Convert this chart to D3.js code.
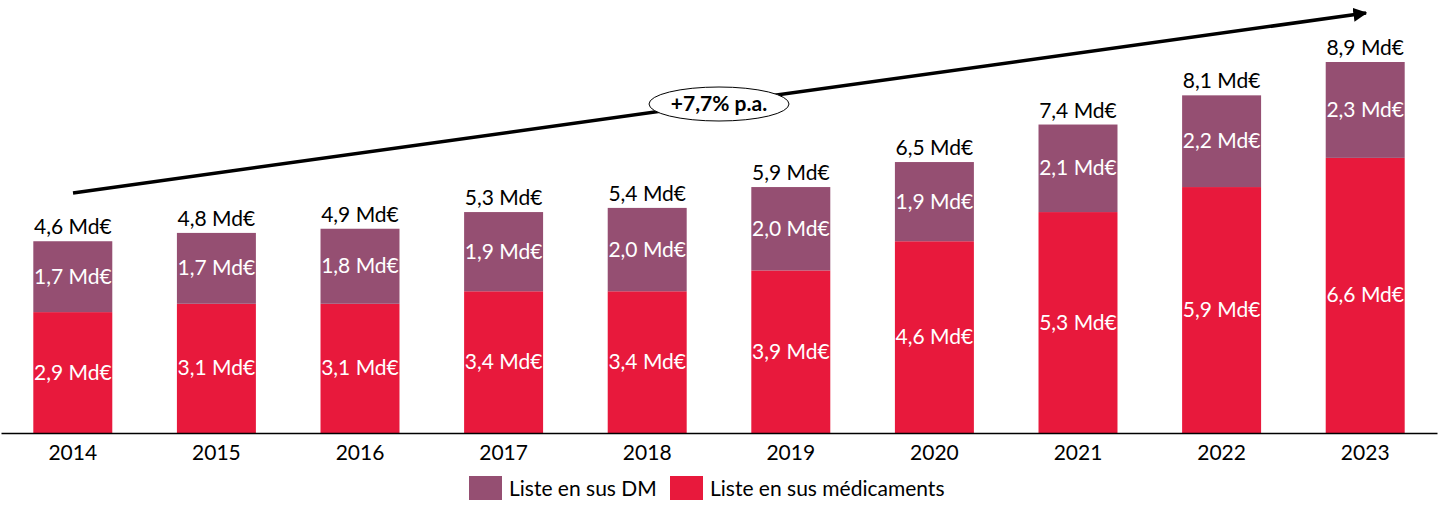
<!DOCTYPE html>
<html>
<head>
<meta charset="utf-8">
<script src="https://cdn.jsdelivr.net/npm/d3@7"></script>
<style>
  body { margin: 0; background: #fff; }
  text { font-family: Lato, "Open Sans", sans-serif; }
</style>
</head>
<body>
<script>
// données
var annees = ["2014", "2015", "2016", "2017", "2018", "2019", "2020", "2021", "2022", "2023"];
var medicaments = [2.9, 3.1, 3.1, 3.4, 3.4, 3.9, 4.6, 5.3, 5.9, 6.6];
var dm = [1.7, 1.7, 1.8, 1.9, 2.0, 2.0, 1.9, 2.1, 2.2, 2.3];
var totaux = [4.6, 4.8, 4.9, 5.3, 5.4, 5.9, 6.5, 7.4, 8.1, 8.9];
var series = ["Liste en sus DM", "Liste en sus médicaments"];
var taux = "+7,7% p.a.";

var couleurs = { dm: "#954F72", med: "#E8193C" };
var fmt = function(v) { return v.toFixed(1).replace(".", ",") + " Md€"; };
var taille = 21;

var W = 1451, H = 505;
var svg = d3.select("body").append("svg")
  .attr("width", W)
  .attr("height", H);

var x = d3.scaleBand()
  .domain(annees)
  .range([1, 1437])
  .paddingInner(0.45)
  .paddingOuter(0.225);

var y = d3.scaleLinear()
  .domain([0, 8.9])
  .range([433, 62]);

var data = annees.map(function(a, i) {
  return { annee: a, med: medicaments[i], dm: dm[i], total: totaux[i] };
});

// barres médicaments
svg.selectAll(".med").data(data).enter().append("rect")
  .attr("x", function(d) { return x(d.annee); })
  .attr("y", function(d) { return y(d.med); })
  .attr("width", x.bandwidth())
  .attr("height", function(d) { return y(0) - y(d.med); })
  .attr("fill", couleurs.med);

// barres DM
svg.selectAll(".dm").data(data).enter().append("rect")
  .attr("x", function(d) { return x(d.annee); })
  .attr("y", function(d) { return y(d.med + d.dm); })
  .attr("width", x.bandwidth())
  .attr("height", function(d) { return y(d.med) - y(d.med + d.dm); })
  .attr("fill", couleurs.dm);

// étiquettes dans les barres
svg.selectAll(".lmed").data(data).enter().append("text")
  .attr("x", function(d) { return x(d.annee) + x.bandwidth() / 2; })
  .attr("y", function(d) { return (y(0) + y(d.med)) / 2 + 7; })
  .attr("text-anchor", "middle")
  .attr("fill", "#fff")
  .attr("font-size", taille)
  .text(function(d) { return fmt(d.med); });

svg.selectAll(".ldm").data(data).enter().append("text")
  .attr("x", function(d) { return x(d.annee) + x.bandwidth() / 2; })
  .attr("y", function(d) { return (y(d.med) + y(d.med + d.dm)) / 2 + 7; })
  .attr("text-anchor", "middle")
  .attr("fill", "#fff")
  .attr("font-size", taille)
  .text(function(d) { return fmt(d.dm); });

// totaux
svg.selectAll(".ltot").data(data).enter().append("text")
  .attr("x", function(d) { return x(d.annee) + x.bandwidth() / 2; })
  .attr("y", function(d) { return y(d.total) - 7; })
  .attr("text-anchor", "middle")
  .attr("fill", "#000")
  .attr("font-size", taille)
  .text(function(d) { return fmt(d.total); });

// axe x
var axe = svg.append("g")
  .attr("transform", "translate(0," + y(0) + ")")
  .call(d3.axisBottom(x).tickSize(0).tickPadding(12));
axe.select(".domain").attr("stroke", "#000").attr("stroke-width", 1.5);
axe.selectAll("text")
  .attr("font-size", taille)
  .attr("fill", "#000")
  .style("font-family", "Lato, 'Open Sans', sans-serif");

// flèche de croissance
svg.append("defs").append("marker")
  .attr("id", "fleche")
  .attr("viewBox", "0 0 10 10")
  .attr("refX", 9)
  .attr("refY", 5)
  .attr("markerWidth", 4)
  .attr("markerHeight", 4)
  .attr("orient", "auto")
  .append("path")
  .attr("d", "M0,0 L10,5 L0,10 Z")
  .attr("fill", "#000");

svg.append("line")
  .attr("x1", 73)
  .attr("y1", 193)
  .attr("x2", 1366)
  .attr("y2", 13)
  .attr("stroke", "#000")
  .attr("stroke-width", 3.5)
  .attr("marker-end", "url(#fleche)");

svg.append("ellipse")
  .attr("cx", 719)
  .attr("cy", 104)
  .attr("rx", 70)
  .attr("ry", 17)
  .attr("fill", "#fff")
  .attr("stroke", "#000")
  .attr("stroke-width", 1);

svg.append("text")
  .attr("x", 719)
  .attr("y", 111)
  .attr("text-anchor", "middle")
  .attr("font-size", 21)
  .attr("font-weight", "bold")
  .text(taux);

// légende
var leg = svg.append("g");
var legX = [469, 670];
var legCol = [couleurs.dm, couleurs.med];
series.forEach(function(s, i) {
  leg.append("rect")
    .attr("x", legX[i])
    .attr("y", 476)
    .attr("width", 33)
    .attr("height", 24)
    .attr("fill", legCol[i]);
  leg.append("text")
    .attr("x", legX[i] + 40)
    .attr("y", 496)
    .attr("font-size", taille)
    .attr("fill", "#000")
    .text(s);
});
</script>
</body>
</html>
